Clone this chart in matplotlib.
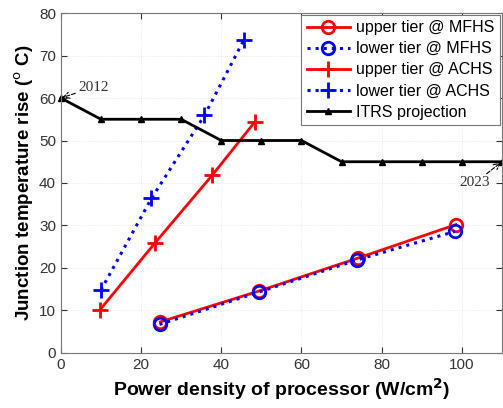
import matplotlib.pyplot as plt

# data
mfhs_x_up = [24.8, 49.5, 74.0, 98.5]
mfhs_y_up = [7.3, 14.6, 22.3, 30.2]
mfhs_x_low = [24.6, 49.3, 73.9, 98.3]
mfhs_y_low = [6.7, 14.3, 21.9, 28.6]

achs_x_up = [9.8, 23.4, 37.8, 48.3]
achs_y_up = [10.2, 25.8, 41.9, 54.3]
achs_x_low = [10.0, 22.6, 35.8, 45.6]
achs_y_low = [14.8, 36.4, 55.9, 73.6]

itrs_x = [0, 10, 20, 30, 40, 50, 60, 70, 80, 90, 100, 110]
itrs_y = [60, 55, 55, 55, 50, 50, 50, 45, 45, 45, 45, 45]

xticks = [0, 20, 40, 60, 80, 100]
yticks = [0, 10, 20, 30, 40, 50, 60, 70, 80]

plt.rcParams['font.family'] = ['Liberation Sans', 'DejaVu Sans']

fig = plt.figure(figsize=(5.03, 4.08), dpi=100)
ax = fig.add_axes([0.121, 0.135, 0.877, 0.833])

ax.plot(mfhs_x_up, mfhs_y_up, '-', color='red', lw=2, marker='o', ms=9,
        mfc='none', mew=2, label='upper tier @ MFHS')
ax.plot(mfhs_x_low, mfhs_y_low, ':', color='blue', lw=2.2, marker='o', ms=9,
        mfc='none', mew=2, label='lower tier @ MFHS')
ax.plot(achs_x_up, achs_y_up, '-', color='red', lw=2, marker='+', ms=12,
        mew=2, label='upper tier @ ACHS')
ax.plot(achs_x_low, achs_y_low, ':', color='blue', lw=2.2, marker='+', ms=12,
        mew=2, label='lower tier @ ACHS')
ax.plot(itrs_x, itrs_y, '-', color='black', lw=2, marker='^', ms=5,
        label='ITRS projection', clip_on=False)

ax.annotate('2012', xy=(0, 60), xytext=(4.3, 62.5), fontsize=11,
            family='Liberation Serif', color='#333333', va='center',
            arrowprops=dict(arrowstyle='->', ls='--', color='black', lw=0.8,
                            shrinkA=0, shrinkB=1))
ax.annotate('2023', xy=(110, 45), xytext=(107, 40), fontsize=11,
            family='Liberation Serif', color='#333333', va='center', ha='right',
            arrowprops=dict(arrowstyle='->', ls='--', color='black', lw=0.8,
                            shrinkA=0, shrinkB=1))

ax.set_xlim(0, 110)
ax.set_ylim(0, 80)
ax.set_xticks(xticks)
ax.set_yticks(yticks)
ax.tick_params(direction='in', top=True, right=True, labelsize=11,
               colors='#333333', length=4)
for s in ax.spines.values():
    s.set_color('#777777')
ax.grid(True, ls=':', color='#e4e4e4', lw=0.6)

ax.set_xlabel('Power density of processor (W/cm$^\\mathbf{2}$)',
              fontsize=14, fontweight='bold', labelpad=3)
ax.set_ylabel('Junction temperature rise ($^\\mathrm{o}$ C)',
              fontsize=13.5, fontweight='bold', labelpad=2)

leg = ax.legend(loc='upper right', fontsize=11.5, borderaxespad=0.1,
                fancybox=False, framealpha=1, edgecolor='#777777',
                handlelength=2.7, labelspacing=0.38, handletextpad=0.4,
                borderpad=0.35)
leg.get_frame().set_linewidth(0.8)

fig.savefig('out.png', dpi=100)
